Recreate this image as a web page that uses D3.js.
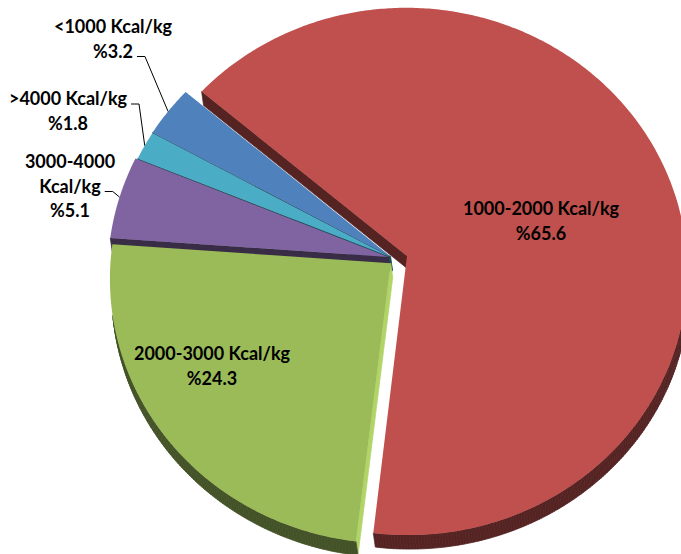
<!DOCTYPE html>
<html>
<head>
<meta charset="utf-8">
<script src="https://cdn.jsdelivr.net/npm/d3@7/dist/d3.min.js"></script>
<style>
  html, body { margin: 0; padding: 0; background: #ffffff; }
  svg { display: block; }
  text { font-family: Lato, "Open Sans", sans-serif; font-weight: 700; font-size: 18px; fill: #000; }
</style>
</head>
<body>
<script>
// Calorific value classes and their share of the total (%)
const categories = ["<1000 Kcal/kg", "1000-2000 Kcal/kg", "2000-3000 Kcal/kg", "3000-4000 Kcal/kg", ">4000 Kcal/kg"];
const shares = [3.2, 65.6, 24.3, 5.1, 1.8];
const colors = ["#4F81BD", "#C0504D", "#9BBB59", "#8064A2", "#4BACC6"];

// Layout of the tilted 3-D pie
const W = 681, H = 554;
const view = { cx: 393, cy: 258, rx: 280, ry: 263, persp: 0.059, depthX: 2, depthY: 14 };
const startAngle = -61 * Math.PI / 180;
// Offset of each slice on the pie disc (right, away from viewer)
const explodeOffset = [[-0.009, 0.006], [0.05, 0.008], [-0.008, -0.02], [-0.017, 0.004], [-0.009, 0.004]];

// Label anchors (centre x, first baseline), line breaks and leader rows
const labelLayout = [
  { x: 113, y: 33, lines: ["<1000 Kcal/kg"], leaderRow: 1 },
  { x: 541, y: 215, lines: ["1000-2000 Kcal/kg"], leaderRow: -1 },
  { x: 212, y: 360, lines: ["2000-3000 Kcal/kg"], leaderRow: -1 },
  { x: 70, y: 168, lines: ["3000-4000", "Kcal/kg"], leaderRow: 1 },
  { x: 68, y: 105, lines: [">4000 Kcal/kg"], leaderRow: 0 }
];
const lineHeight = 24.5;

const svg = d3.select("body").append("svg").attr("width", W).attr("height", H);

// Perspective projection of a point of the pie disc (u to the right, v away from the viewer)
function proj(u, v) {
  const w = 1 + view.persp * v;
  return [view.cx + view.rx * u / w, view.cy - view.ry * v / w];
}
function down(p) { return [p[0] + view.depthX, p[1] + view.depthY]; }

const pie = d3.pie().sort(null).value(d => d)
  .startAngle(startAngle).endAngle(startAngle + 2 * Math.PI);
const arcs = pie(shares);

const slices = arcs.map((a, i) => {
  const mid = (a.startAngle + a.endAngle) / 2;
  const [ou, ov] = explodeOffset[i];
  const pts = [proj(ou, ov)];
  const n = Math.max(2, Math.ceil((a.endAngle - a.startAngle) / 0.01));
  for (let k = 0; k <= n; k++) {
    const t = a.startAngle + (a.endAngle - a.startAngle) * k / n;
    pts.push(proj(Math.sin(t) + ou, Math.cos(t) + ov));
  }
  const anchor = proj(Math.sin(mid) + ou, Math.cos(mid) + ov);
  return { i, a, pts, anchor };
});

// Side walls: every outline edge that faces the viewer becomes a quad
const quads = [];
slices.forEach(s => {
  const p = s.pts, m = p.length;
  let area = 0;
  for (let k = 0; k < m; k++) {
    const q = p[(k + 1) % m];
    area += p[k][0] * q[1] - q[0] * p[k][1];
  }
  const sign = area > 0 ? 1 : -1;
  for (let k = 0; k < m; k++) {
    const a = p[k], b = p[(k + 1) % m];
    const ex = b[0] - a[0], ey = b[1] - a[1];
    const len = Math.hypot(ex, ey);
    if (len < 1e-6) continue;
    const nx = sign * ey / len, ny = -sign * ex / len;
    if (nx * view.depthX + ny * view.depthY <= 0) continue;
    const radial = (k === 0 || k === m - 1);
    const base = d3.color(colors[s.i]);
    const fill = (radial && nx > 0.8) ? base.brighter(0.35).formatHex() : base.darker(2.3).formatHex();
    quads.push({ poly: [a, b, down(b), down(a)], fill, depth: (a[1] + b[1]) / 2 });
  }
});
quads.sort((p, q) => p.depth - q.depth);

const polyLine = d3.line().curve(d3.curveLinearClosed);

svg.append("g").attr("class", "walls")
  .selectAll("path").data(quads).join("path")
  .attr("d", d => polyLine(d.poly))
  .attr("fill", d => d.fill)
  .attr("stroke", d => d.fill)
  .attr("stroke-width", 0.7)
  .attr("stroke-linejoin", "round");

svg.append("g").attr("class", "faces")
  .selectAll("path").data(slices).join("path")
  .attr("d", d => polyLine(d.pts))
  .attr("fill", d => colors[d.i]);

// Labels
const labels = svg.append("g").attr("class", "labels");
labelLayout.forEach((L, i) => {
  const rows = L.lines.concat(["%" + shares[i]]);
  const g = labels.append("g");
  const texts = rows.map((r, k) => g.append("text")
    .attr("x", L.x).attr("y", L.y + k * lineHeight)
    .attr("text-anchor", "middle").text(r));
  if (L.leaderRow >= 0) {
    const t = texts[L.leaderRow];
    const wTxt = t.node().getComputedTextLength();
    const x0 = L.x + wTxt / 2 + 4, y0 = L.y + L.leaderRow * lineHeight - 1;
    const end = slices[i].anchor;
    labels.append("path")
      .attr("d", d3.line()([[x0, y0], [x0 + 8, y0], end]))
      .attr("fill", "none").attr("stroke", "#000").attr("stroke-width", 1);
  }
});
</script>
</body>
</html>
